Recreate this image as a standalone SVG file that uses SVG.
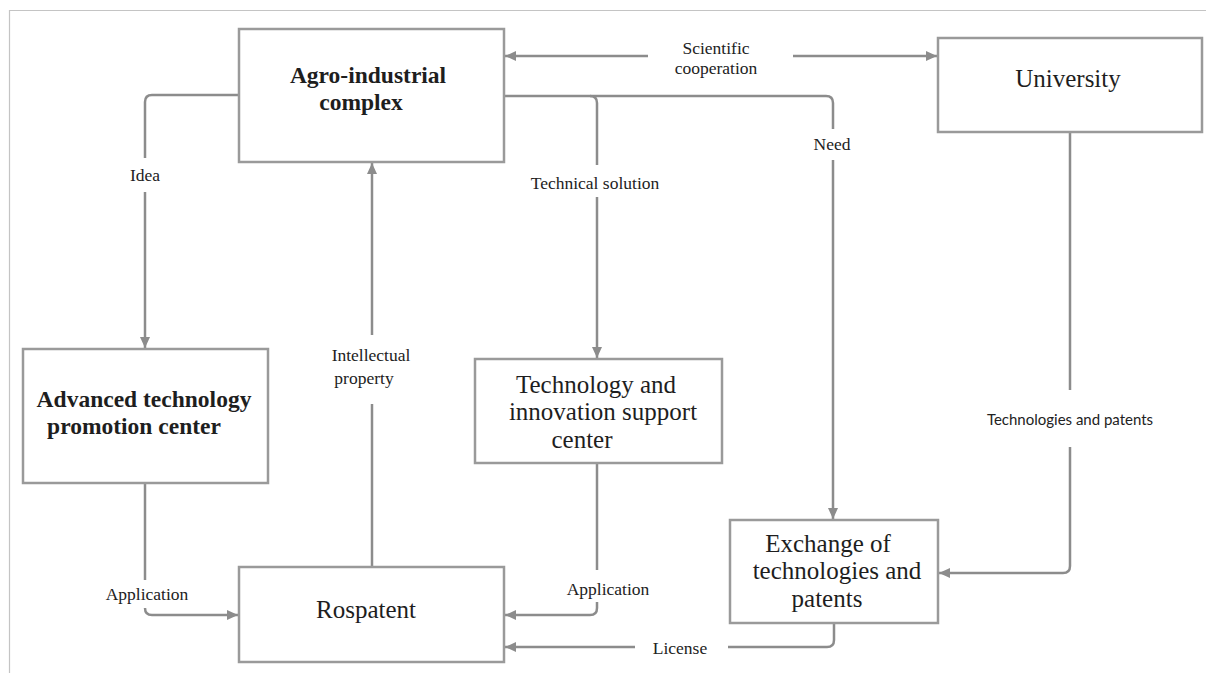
<svg xmlns="http://www.w3.org/2000/svg" width="1206" height="673" viewBox="0 0 1206 673">
<style>
.box{fill:#fff;stroke:#9a9a9a;stroke-width:2.5}
.t{font-family:"Liberation Serif","Times New Roman",serif;font-size:25px;fill:#1e1e1e;text-anchor:middle}
.tb{font-weight:bold;font-size:23.5px}
.lbl{font-family:"Liberation Serif","Times New Roman",serif;font-size:17.5px;fill:#222;text-anchor:middle}
.lbls{font-family:Lato,"Open Sans",sans-serif;font-size:15px;fill:#222;text-anchor:middle}
.c{fill:none;stroke:#8c8c8c;stroke-width:2.5}
.frame{stroke:#c4c4c4;stroke-width:1.2;fill:none}
</style>
<defs>
<marker id="ah" markerUnits="userSpaceOnUse" markerWidth="12" markerHeight="12" viewBox="0 0 12 12" refX="11" refY="6" orient="auto">
<path d="M0,1 L11,6 L0,11 Z" fill="#8c8c8c"/>
</marker>
</defs>
<path class="frame" d="M9.5,673 V10.5 H1206"/>

<g id="connectors">
<!-- Scientific cooperation -->
<path class="c" d="M648,56 H505" marker-end="url(#ah)"/>
<path class="c" d="M793,56 H937" marker-end="url(#ah)"/>
<!-- Need -->
<path class="c" d="M504,96 H826 Q833,96 833,103 V129"/>
<path class="c" d="M833,160 V519" marker-end="url(#ah)"/>
<!-- Technical solution -->
<path class="c" d="M590,96 Q597,96 597,103 V165"/>
<path class="c" d="M597,197 V358" marker-end="url(#ah)"/>
<!-- Idea -->
<path class="c" d="M239,95 H152 Q145,95 145,102 V158"/>
<path class="c" d="M145,192 V348" marker-end="url(#ah)"/>
<!-- Intellectual property -->
<path class="c" d="M372,404 V567"/>
<path class="c" d="M372,335 V163" marker-end="url(#ah)"/>
<!-- Application left -->
<path class="c" d="M145,483 V580"/>
<path class="c" d="M145,608 Q145,615 152,615 H238" marker-end="url(#ah)"/>
<!-- Application right -->
<path class="c" d="M597,463 V570"/>
<path class="c" d="M597,602 V608 Q597,615 590,615 H505" marker-end="url(#ah)"/>
<!-- License -->
<path class="c" d="M834,623 V640 Q834,647 827,647 H728"/>
<path class="c" d="M635,647 H505" marker-end="url(#ah)"/>
<!-- Technologies and patents -->
<path class="c" d="M1070,132 V390"/>
<path class="c" d="M1070,447 V566 Q1070,573 1063,573 H939" marker-end="url(#ah)"/>

<text class="lbl" x="716" y="54">Scientific</text>
<text class="lbl" x="716" y="74">cooperation</text>
<text class="lbl" x="832" y="150">Need</text>
<text class="lbl" x="595" y="189">Technical solution</text>
<text class="lbl" x="145" y="181">Idea</text>
<text class="lbl" x="371" y="361">Intellectual</text>
<text class="lbl" x="364" y="384">property</text>
<text class="lbl" x="147" y="600">Application</text>
<text class="lbl" x="608" y="595">Application</text>
<text class="lbl" x="680" y="654">License</text>
<text class="lbls" x="1070" y="425">Technologies and patents</text>
</g>

<g id="agro">
<rect class="box" x="239" y="29" width="265" height="133"/>
<text class="t tb" x="368" y="83">Agro-industrial</text>
<text class="t tb" x="361" y="110">complex</text>
</g>
<g id="university">
<rect class="box" x="938" y="38" width="264" height="94"/>
<text class="t" x="1068" y="87">University</text>
</g>
<g id="advanced">
<rect class="box" x="23" y="349" width="245" height="134"/>
<text class="t tb" x="144" y="407">Advanced technology</text>
<text class="t tb" x="134" y="434">promotion center</text>
</g>
<g id="tisc">
<rect class="box" x="475" y="359" width="247" height="104"/>
<text class="t" x="596" y="393">Technology and</text>
<text class="t" x="603" y="420">innovation support</text>
<text class="t" x="582" y="448">center</text>
</g>
<g id="rospatent">
<rect class="box" x="239" y="567" width="265" height="95"/>
<text class="t" x="366" y="618">Rospatent</text>
</g>
<g id="exchange">
<rect class="box" x="730" y="520" width="208" height="103"/>
<text class="t" x="828" y="552">Exchange of</text>
<text class="t" x="837" y="579">technologies and</text>
<text class="t" x="827" y="607">patents</text>
</g>
</svg>
